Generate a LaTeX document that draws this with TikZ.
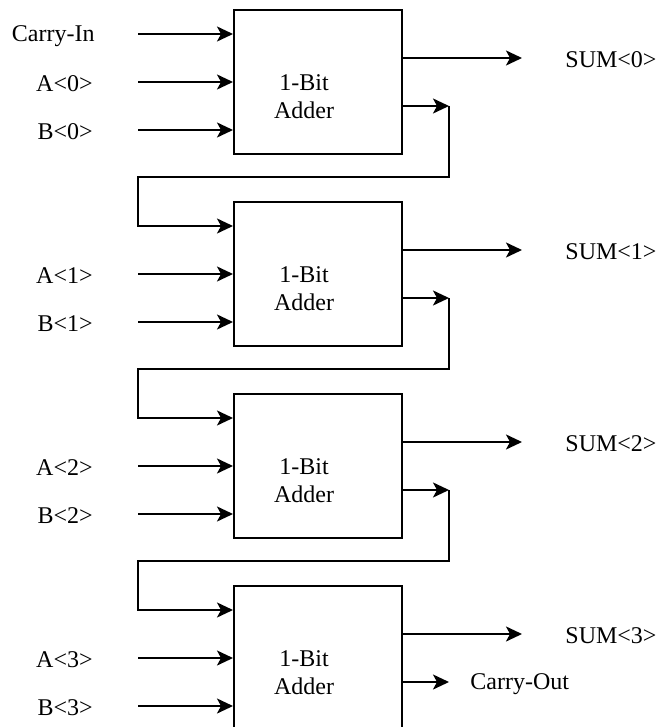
\documentclass[tikz,border=0pt]{standalone}
\usepackage{fontspec}
\setmainfont{Liberation Serif}
\usetikzlibrary{arrows.meta, positioning}

\tikzset{
  lbl/.style={font=\fontsize{12}{14}\selectfont, inner sep=0pt},
  txt/.style={lbl, yshift=-1pt},
  adder/.style={draw, line width=1pt, minimum width=84pt, minimum height=72pt,
                inner sep=0pt,
                label={[lbl, align=center, xshift=-7pt, yshift=-7.5pt]center:{1-Bit\\Adder}}},
  wire/.style={line width=1pt},
  sig/.style={wire, -{Stealth[length=8pt, width=7.5pt, inset=2pt]}}
}

\begin{document}
\begin{tikzpicture}[x=0.5pt, y=-0.5pt]
      \useasboundingbox (0,0) rectangle (659,727);

      % --- Addierer, je 192 Einheiten tiefer ---
      \node[adder] (add0) at (318,82) {};
      \node[adder] (add1) at (318,274) {};
      \node[adder] (add2) at (318,466) {};
      \node[adder] (add3) at (318,658) {};

      % Eingaenge (freie Enden links)
      \coordinate (cin) at (138,34);
      \coordinate (ci1) at (138,226);
      \coordinate (ci2) at (138,418);
      \coordinate (ci3) at (138,610);
      \coordinate (ia0) at (138,82);  \coordinate (ib0) at (138,130);
      \coordinate (ia1) at (138,274); \coordinate (ib1) at (138,322);
      \coordinate (ia2) at (138,466); \coordinate (ib2) at (138,514);
      \coordinate (ia3) at (138,658); \coordinate (ib3) at (138,706);

      \node[txt, left=21.5pt of cin] {Carry-In};
      \node[txt, left=22.5pt of ia0] {A<0>};
      \node[txt, left=22.5pt of ib0] {B<0>};
      \node[txt, left=22.5pt of ia1] {A<1>};
      \node[txt, left=22.5pt of ib1] {B<1>};
      \node[txt, left=22.5pt of ia2] {A<2>};
      \node[txt, left=22.5pt of ib2] {B<2>};
      \node[txt, left=22.5pt of ia3] {A<3>};
      \node[txt, left=22.5pt of ib3] {B<3>};

      \draw[sig] (cin) -- (cin -| add0.west);
      \draw[sig] (ia0) -- (ia0 -| add0.west);
      \draw[sig] (ib0) -- (ib0 -| add0.west);
      \draw[sig] (ia1) -- (ia1 -| add1.west);
      \draw[sig] (ib1) -- (ib1 -| add1.west);
      \draw[sig] (ia2) -- (ia2 -| add2.west);
      \draw[sig] (ib2) -- (ib2 -| add2.west);
      \draw[sig] (ia3) -- (ia3 -| add3.west);
      \draw[sig] (ib3) -- (ib3 -| add3.west);

      % Summen
      \coordinate (os0) at (522,58);
      \coordinate (os1) at (522,250);
      \coordinate (os2) at (522,442);
      \coordinate (os3) at (522,634);
      \draw[sig] (add0.east |- os0) -- (os0);
      \draw[sig] (add1.east |- os1) -- (os1);
      \draw[sig] (add2.east |- os2) -- (os2);
      \draw[sig] (add3.east |- os3) -- (os3);
      \node[txt, right=21.5pt of os0] {SUM<0>};
      \node[txt, right=21.5pt of os1] {SUM<1>};
      \node[txt, right=21.5pt of os2] {SUM<2>};
      \node[txt, right=21.5pt of os3] {SUM<3>};

      % Uebertrag zur naechsten Stufe
      \coordinate (co0) at (449,106);
      \coordinate (co1) at (449,298);
      \coordinate (co2) at (449,490);
      \coordinate (co3) at (449,682);
      \draw[sig] (add0.east |- co0) -- (co0);
      \draw[sig] (add1.east |- co1) -- (co1);
      \draw[sig] (add2.east |- co2) -- (co2);
      \draw[sig] (add3.east |- co3) -- (co3);
      \draw[sig] (co0) -- ++(0,71) -| (ci1) -- (ci1 -| add1.west);
      \draw[sig] (co1) -- ++(0,71) -| (ci2) -- (ci2 -| add2.west);
      \draw[sig] (co2) -- ++(0,71) -| (ci3) -- (ci3 -| add3.west);
      \node[txt, right=10.5pt of co3] {Carry-Out};
\end{tikzpicture}
\end{document}
